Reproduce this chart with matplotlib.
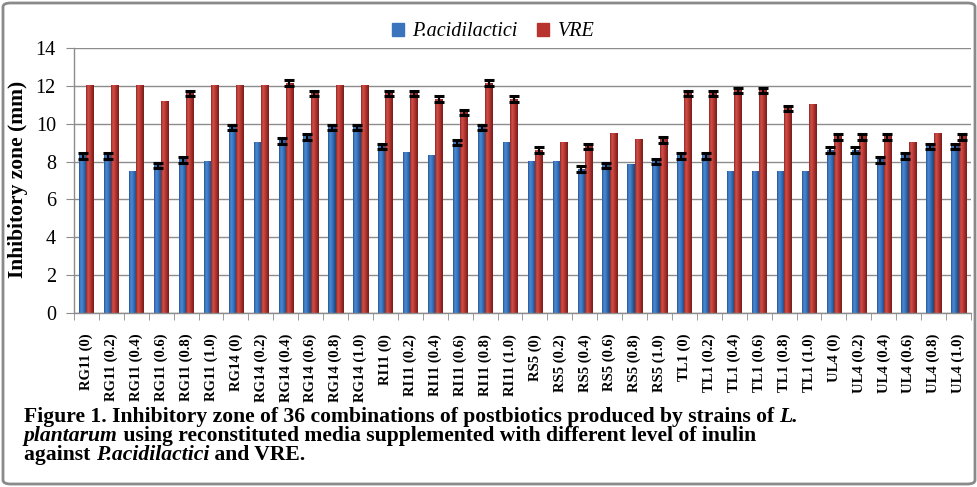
import numpy as np
import matplotlib
matplotlib.use("Agg")
import matplotlib.pyplot as plt
from matplotlib.patches import FancyBboxPatch, Rectangle
from matplotlib.colors import LinearSegmentedColormap

# ---- data ----
strains = ["RG11", "RG14", "RI11", "RS5", "TL1", "UL4"]
levels = ["0", "0.2", "0.4", "0.6", "0.8", "1.0"]
labels = [f"{s} ({l})" for s in strains for l in levels]

pacid = [8.3, 8.3, 7.5, 7.8, 8.1, 8.0,
         9.8, 9.0, 9.1, 9.3, 9.8, 9.8,
         8.8, 8.5, 8.3, 9.0, 9.8, 9.0,
         8.0, 8.0, 7.6, 7.8, 7.85, 8.0,
         8.3, 8.3, 7.5, 7.5, 7.5, 7.5,
         8.6, 8.6, 8.1, 8.3, 8.8, 8.8]
vre = [12.0, 12.0, 12.0, 11.2, 11.6, 12.0,
       12.0, 12.0, 12.15, 11.6, 12.0, 12.0,
       11.6, 11.6, 11.3, 10.6, 12.15, 11.3,
       8.6, 9.0, 8.8, 9.5, 9.15, 9.15,
       11.6, 11.6, 11.75, 11.75, 10.8, 11.0,
       9.3, 9.3, 9.3, 9.0, 9.5, 9.3]
# error bar half-widths (0 where the reference shows none)
pacid_err = [0.15, 0.15, 0, 0.15, 0.15, 0,
             0.15, 0, 0.15, 0.15, 0.15, 0.15,
             0.15, 0, 0, 0.15, 0.15, 0,
             0, 0, 0.15, 0.15, 0, 0.15,
             0.15, 0.15, 0, 0, 0, 0,
             0.15, 0.15, 0.15, 0.15, 0.15, 0.15]
vre_err = [0, 0, 0, 0, 0.15, 0,
           0, 0, 0.15, 0.15, 0, 0,
           0.15, 0.15, 0.15, 0.15, 0.15, 0.15,
           0.15, 0, 0.15, 0, 0, 0.15,
           0.15, 0.15, 0.15, 0.15, 0.15, 0,
           0.15, 0.15, 0.15, 0, 0, 0.15]

SERIF = "Liberation Serif"
BLUE = "#3a74bc"
RED = "#b8332e"

fig = plt.figure(figsize=(9.78, 4.87), dpi=100)
ax = fig.add_axes([74 / 978, 1 - 313 / 487, 897 / 978, 265 / 487])

x = np.arange(len(labels))
w = 0.29

cmap_b = LinearSegmentedColormap.from_list("b", ["#24508a", "#4c8cd8", "#3c79c4", "#2c5d9c", "#1f4576"])
cmap_r = LinearSegmentedColormap.from_list("r", ["#8a2522", "#d4524c", "#c03c36", "#9a2a27", "#781c1a"])

bars_b = ax.bar(x - w / 2, pacid, w, color=BLUE, zorder=2, label="P.acidilactici")
bars_r = ax.bar(x + w / 2, vre, w, color=RED, zorder=2, label="VRE")

# cylinder-like shading on each bar
grad = np.linspace(0, 1, 64).reshape(1, -1)
for bars, cm in ((bars_b, cmap_b), (bars_r, cmap_r)):
    for p in bars:
        x0, wd, h = p.get_x(), p.get_width(), p.get_height()
        ax.imshow(grad, cmap=cm, aspect="auto", extent=(x0, x0 + wd, 0, h),
                  zorder=2.1, interpolation="bicubic")

# error bars
pe = np.array(pacid_err)
ve = np.array(vre_err)
mb = pe > 0
mr = ve > 0
ax.errorbar((x - w / 2)[mb], np.array(pacid)[mb], yerr=pe[mb], fmt="none",
            ecolor="black", elinewidth=1.6, capsize=3.6, capthick=2.2, zorder=4)
ax.errorbar((x + w / 2)[mr], np.array(vre)[mr], yerr=ve[mr], fmt="none",
            ecolor="black", elinewidth=1.6, capsize=3.6, capthick=2.2, zorder=4)

ax.set_xlim(-0.5, len(labels) - 0.5)
ax.set_ylim(0, 14)
ax.set_yticks(range(0, 15, 2))
ax.yaxis.grid(True, color="#8c8c8c", linewidth=1.0, zorder=0)
ax.set_axisbelow(True)

ax.set_xticks(np.arange(len(labels) + 1) - 0.5, minor=True)
ax.set_xticks(x)
ax.set_xticklabels(labels, rotation=90, fontsize=10.5, fontweight="bold", family=SERIF)
ax.tick_params(axis="x", which="major", length=0, pad=15)
ax.tick_params(axis="x", which="minor", length=5, color="#8c8c8c", direction="out")
ax.tick_params(axis="y", length=6, color="#8c8c8c", labelsize=14.5, pad=7)
for t in ax.get_yticklabels():
    t.set_family(SERIF)

for side in ("top", "right"):
    ax.spines[side].set_visible(False)
for side in ("left", "bottom"):
    ax.spines[side].set_color("#8c8c8c")
    ax.spines[side].set_linewidth(1.0)

ax.set_ylabel("Inhibitory zone (mm)", fontsize=15.5, fontweight="bold", family=SERIF)
ax.yaxis.label.set_va("center")
ax.yaxis.set_label_coords((18 - 74) / 897, (313 - 179) / 265)

# legend
handles = [Rectangle((0, 0), 1, 1, color=BLUE), Rectangle((0, 0), 1, 1, color=RED)]
leg = fig.legend(handles, ["P.acidilactici", "VRE"], loc="center", bbox_to_anchor=(493 / 978, 1 - 32 / 487),
                 ncol=2, frameon=False, handlelength=0.6, handleheight=0.6, handletextpad=0.4,
                 columnspacing=1.0, prop={"family": SERIF, "style": "italic", "size": 14.5})

# caption with mixed bold / bold-italic runs
caption = [
    [("Figure 1. Inhibitory zone of 36 combinations of postbiotics produced by strains of ", "normal"), ("L.", "italic")],
    [("plantarum", "italic"), (" using reconstituted media supplemented with different level of inulin", "normal")],
    [("against ", "normal"), ("P.acidilactici", "italic"), (" and VRE.", "normal")],
]
fig.canvas.draw()
renderer = fig.canvas.get_renderer()
y0 = 1 - 417 / 487
for i, line in enumerate(caption):
    xpos = 24 / 978
    ypos = y0 - i * 19 / 487
    for txt, style in line:
        t = fig.text(xpos, ypos, txt, fontsize=15.6, fontweight="bold", style=style,
                     family=SERIF, va="center", ha="left")
        bb = t.get_window_extent(renderer=renderer)
        xpos += bb.width / fig.bbox.width

# outer border
fig.patches.append(FancyBboxPatch((3 / 978, 3 / 487), 972 / 978, 481 / 487,
                                  boxstyle="round,pad=0,rounding_size=0.008",
                                  transform=fig.transFigure, fill=False,
                                  edgecolor="#8a8a8a", linewidth=2.0))

fig.savefig("out.png", dpi=100)
